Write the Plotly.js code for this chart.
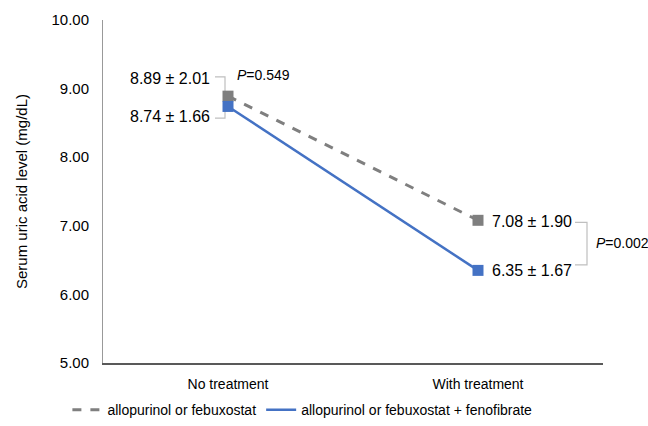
<!DOCTYPE html>
<html>
<head>
<meta charset="utf-8">
<script src="https://cdn.plot.ly/plotly-3.0.1.min.js"></script>
<style>html,body{margin:0;padding:0;background:#fff;}#chart{width:648px;height:426px;}</style>
</head>
<body>
<div id="chart"></div>
<script>
const categories = ["No treatment", "With treatment"];
const seriesNames = ["allopurinol or febuxostat", "allopurinol or febuxostat + fenofibrate"];
const meanA = [8.89, 7.08];
const sdA = [2.01, 1.90];
const meanB = [8.74, 6.35];
const sdB = [1.66, 1.67];
const pLabels = ["0.549", "0.002"];
const yTicks = [5, 6, 7, 8, 9, 10];

const grey = "#7f7f7f", blue = "#4472c4";
const font = "Arial, 'Liberation Sans', sans-serif";

const traces = [
  {x: categories, y: meanA, mode: "lines", name: seriesNames[0],
   line: {color: grey, width: 3, dash: "dash"}, hoverinfo: "skip"},
  {x: categories, y: meanB, mode: "lines", name: seriesNames[1],
   line: {color: blue, width: 2.5}, hoverinfo: "skip"},
  {x: categories, y: meanA, mode: "markers", showlegend: false,
   marker: {symbol: "square", size: 11, color: grey}},
  {x: categories, y: meanB, mode: "markers", showlegend: false,
   marker: {symbol: "square", size: 11, color: blue}}
];

const fmt = (m, s) => m.toFixed(2) + " ± " + s.toFixed(2);
const bc = "#bfbfbf";
const annFont = {family: font, size: 16, color: "#000"};
const pFont = {family: font, size: 14, color: "#000"};

const annotations = [
  {x: -0.064, y: meanA[0] + 0.26, xref: "x", yref: "y", text: fmt(meanA[0], sdA[0]), showarrow: false, xanchor: "right", font: annFont},
  {x: -0.064, y: meanB[0] - 0.14, xref: "x", yref: "y", text: fmt(meanB[0], sdB[0]), showarrow: false, xanchor: "right", font: annFont},
  {x: 0.026, y: meanA[0] + 0.31, xref: "x", yref: "y", text: "<i>P</i>=" + pLabels[0], showarrow: false, xanchor: "left", font: pFont},
  {x: 1.048, y: meanA[1] - 0.02, xref: "x", yref: "y", text: fmt(meanA[1], sdA[1]), showarrow: false, xanchor: "left", font: annFont},
  {x: 1.048, y: meanB[1], xref: "x", yref: "y", text: fmt(meanB[1], sdB[1]), showarrow: false, xanchor: "left", font: annFont},
  {x: 1.462, y: (meanA[1] + meanB[1]) / 2 + 0.03, xref: "x", yref: "y", text: "<i>P</i>=" + pLabels[1], showarrow: false, xanchor: "left", font: pFont}
];

const shapes = [
  {type: "path", xref: "x", yref: "y", path: "M -0.052 9.17 L -0.012 9.17 L -0.012 8.57 L -0.052 8.57", line: {color: bc, width: 1.2}, layer: "below"},
  {type: "path", xref: "x", yref: "y", path: "M 1.388 7.05 L 1.436 7.05 L 1.436 6.43 L 1.388 6.43", line: {color: bc, width: 1.2}, layer: "below"}
];

const layout = {
  width: 648, height: 426,
  margin: {l: 103, r: 45, t: 20, b: 63},
  paper_bgcolor: "#fff", plot_bgcolor: "#fff",
  font: {family: font, size: 14, color: "#000"},
  showlegend: true,
  legend: {orientation: "h", xref: "container", x: 0.104, xanchor: "left",
           yref: "container", y: 0.075, yanchor: "top",
           font: {family: font, size: 14, color: "#000"}, tracegroupgap: 0, itemwidth: 30},
  xaxis: {type: "category", range: [-0.5, 1.5], showgrid: false, zeroline: false,
          showline: true, linecolor: "#595959", linewidth: 1.5, ticks: "", tickfont: {size: 14},
          ticklabelstandoff: 8},
  yaxis: {range: [5, 10], tickvals: yTicks, ticktext: yTicks.map(v => v.toFixed(2)),
          showgrid: false, zeroline: false, showline: true, linecolor: "#999", linewidth: 1,
          ticks: "", ticklabelstandoff: 10, tickfont: {size: 15},
          title: {text: "Serum uric acid level (mg/dL)", font: {size: 15}, standoff: 20}},
  annotations: annotations,
  shapes: shapes
};

Plotly.newPlot("chart", traces, layout, {displayModeBar: false, staticPlot: true});
</script>
</body>
</html>
